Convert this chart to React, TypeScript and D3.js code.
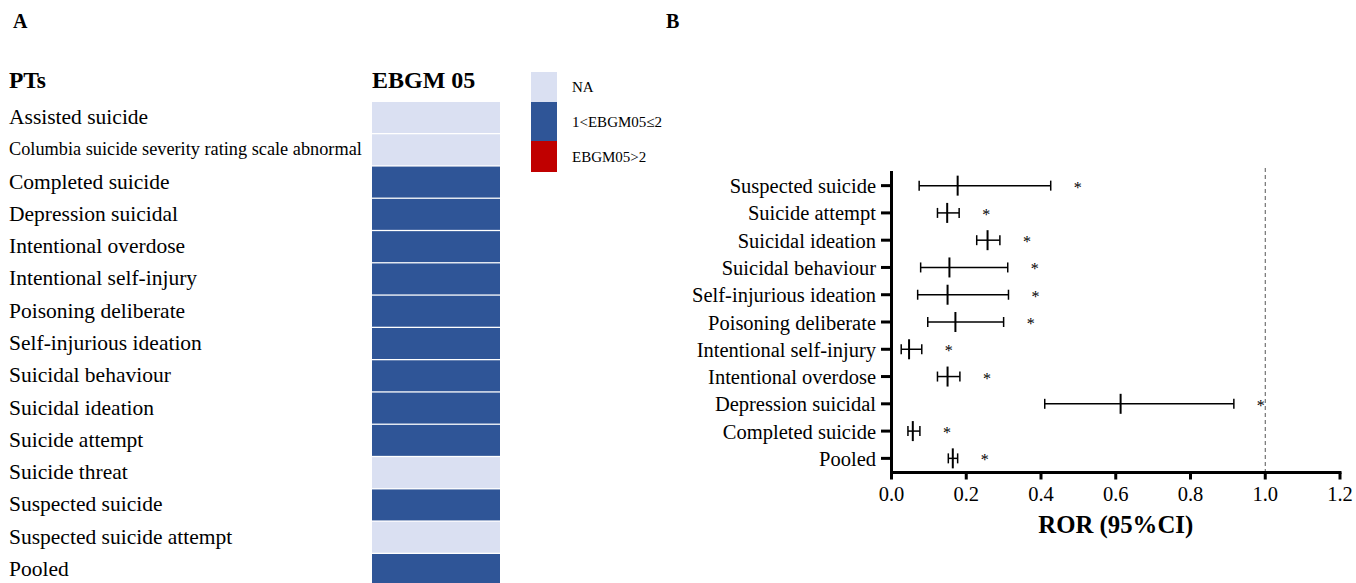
import React from "react";
import * as d3 from "d3";

// ---------- Panel A data ----------
const ptNames = [
  "Assisted suicide",
  "Columbia suicide severity rating scale abnormal",
  "Completed suicide",
  "Depression suicidal",
  "Intentional overdose",
  "Intentional self-injury",
  "Poisoning deliberate",
  "Self-injurious ideation",
  "Suicidal behaviour",
  "Suicidal ideation",
  "Suicide attempt",
  "Suicide threat",
  "Suspected suicide",
  "Suspected suicide attempt",
  "Pooled",
];
// category: 0 = NA, 1 = 1<EBGM05≤2, 2 = EBGM05>2
const ebgmCategory = [0, 0, 1, 1, 1, 1, 1, 1, 1, 1, 1, 0, 1, 0, 1];
const legendLabels = ["NA", "1<EBGM05≤2", "EBGM05>2"];
const legendColors = ["#DAE0F2", "#2F5597", "#C00000"];

// ---------- Panel B data ----------
const forestNames = [
  "Suspected suicide",
  "Suicide attempt",
  "Suicidal ideation",
  "Suicidal behaviour",
  "Self-injurious ideation",
  "Poisoning deliberate",
  "Intentional self-injury",
  "Intentional overdose",
  "Depression suicidal",
  "Completed suicide",
  "Pooled",
];
const rorPoint = [0.177, 0.149, 0.257, 0.155, 0.15, 0.171, 0.047, 0.15, 0.613, 0.057, 0.164];
const rorLower = [0.074, 0.123, 0.228, 0.078, 0.07, 0.097, 0.026, 0.123, 0.41, 0.044, 0.152];
const rorUpper = [0.426, 0.181, 0.29, 0.311, 0.313, 0.3, 0.081, 0.183, 0.916, 0.076, 0.177];
const xTicks = [0, 0.2, 0.4, 0.6, 0.8, 1.0, 1.2];

const FONT = "'Liberation Serif', 'Times New Roman', serif";

export default function App() {
  // Panel A scales
  const rowScale = d3
    .scaleBand<string>()
    .domain(ptNames)
    .range([102, 102 + 15 * 32.2])
    .paddingInner(0.04)
    .paddingOuter(0);

  // Panel B scales
  const x = d3.scaleLinear().domain([0, 1.2]).range([891.5, 1340]);
  const y = d3.scalePoint<string>().domain(forestNames).range([172, 472]).padding(0.5);
  const axisY = 472.5;

  return (
    <svg
      width={1356}
      height={583}
      style={{ position: "absolute", left: 0, top: 0, display: "block", background: "#fff" }}
      fontFamily={FONT}
    >
      <rect x={0} y={0} width={1356} height={583} fill="#fff" />
      {/* Panel letters */}
      <text x={13} y={28} fontSize={20} fontWeight="bold">A</text>
      <text x={666} y={28} fontSize={20} fontWeight="bold">B</text>

      {/* Panel A headers */}
      <text x={9} y={88} fontSize={23.5} fontWeight="bold">PTs</text>
      <text x={372} y={88} fontSize={24} fontWeight="bold">EBGM 05</text>

      {/* Panel A rows */}
      {ptNames.map((n, i) => {
        const y0 = rowScale(n)!;
        const h = rowScale.bandwidth();
        const small = n.length > 30;
        return (
          <g key={n}>
            <rect x={372} y={y0} width={128} height={h} fill={legendColors[ebgmCategory[i]]} />
            <text x={9} y={y0 + h / 2 + (small ? 5.5 : 6.5)} fontSize={small ? 18.3 : 21.5}>
              {n}
            </text>
          </g>
        );
      })}

      {/* Legend */}
      {legendLabels.map((l, i) => {
        const ys = [72, 102, 141, 172];
        return (
          <g key={l}>
            <rect x={531} y={ys[i]} width={26} height={ys[i + 1] - ys[i]} fill={legendColors[i]} />
            <text x={572} y={(ys[i] + ys[i + 1]) / 2 + 5} fontSize={15}>
              {l}
            </text>
          </g>
        );
      })}

      {/* Panel B: reference line */}
      <line
        x1={x(1)}
        x2={x(1)}
        y1={168}
        y2={axisY}
        stroke="#555"
        strokeWidth={1}
        strokeDasharray="4 3"
      />

      {/* Forest rows */}
      {forestNames.map((n, i) => {
        const cy = y(n)!;
        return (
          <g key={n}>
            <line x1={881} x2={891.5} y1={cy} y2={cy} stroke="#000" strokeWidth={3} />
            <text x={876} y={cy + 7.5} fontSize={20.5} textAnchor="end">
              {n}
            </text>
            <line x1={x(rorLower[i])} x2={x(rorUpper[i])} y1={cy} y2={cy} stroke="#000" strokeWidth={1.5} />
            <line x1={x(rorLower[i])} x2={x(rorLower[i])} y1={cy - 5} y2={cy + 5} stroke="#000" strokeWidth={1.5} />
            <line x1={x(rorUpper[i])} x2={x(rorUpper[i])} y1={cy - 5} y2={cy + 5} stroke="#000" strokeWidth={1.5} />
            <line x1={x(rorPoint[i])} x2={x(rorPoint[i])} y1={cy - 10} y2={cy + 10} stroke="#000" strokeWidth={2} />
            <text x={x(rorUpper[i]) + 27} y={cy + 7} fontSize={16} textAnchor="middle" fill="#000">
              *
            </text>
          </g>
        );
      })}

      {/* Y axis line */}
      <line x1={891.5} x2={891.5} y1={171} y2={axisY + 1.5} stroke="#000" strokeWidth={3} />
      {/* X axis */}
      <line x1={890} x2={1341.5} y1={axisY} y2={axisY} stroke="#000" strokeWidth={3} />
      {xTicks.map((t) => (
        <g key={t}>
          <line x1={x(t)} x2={x(t)} y1={axisY} y2={axisY + 7} stroke="#000" strokeWidth={3} />
          <text x={x(t)} y={501} fontSize={20.5} textAnchor="middle">
            {d3.format(".1f")(t)}
          </text>
        </g>
      ))}
      <text x={x(0.6)} y={533} fontSize={24.8} fontWeight="bold" textAnchor="middle">
        ROR (95%CI)
      </text>
    </svg>
  );
}
